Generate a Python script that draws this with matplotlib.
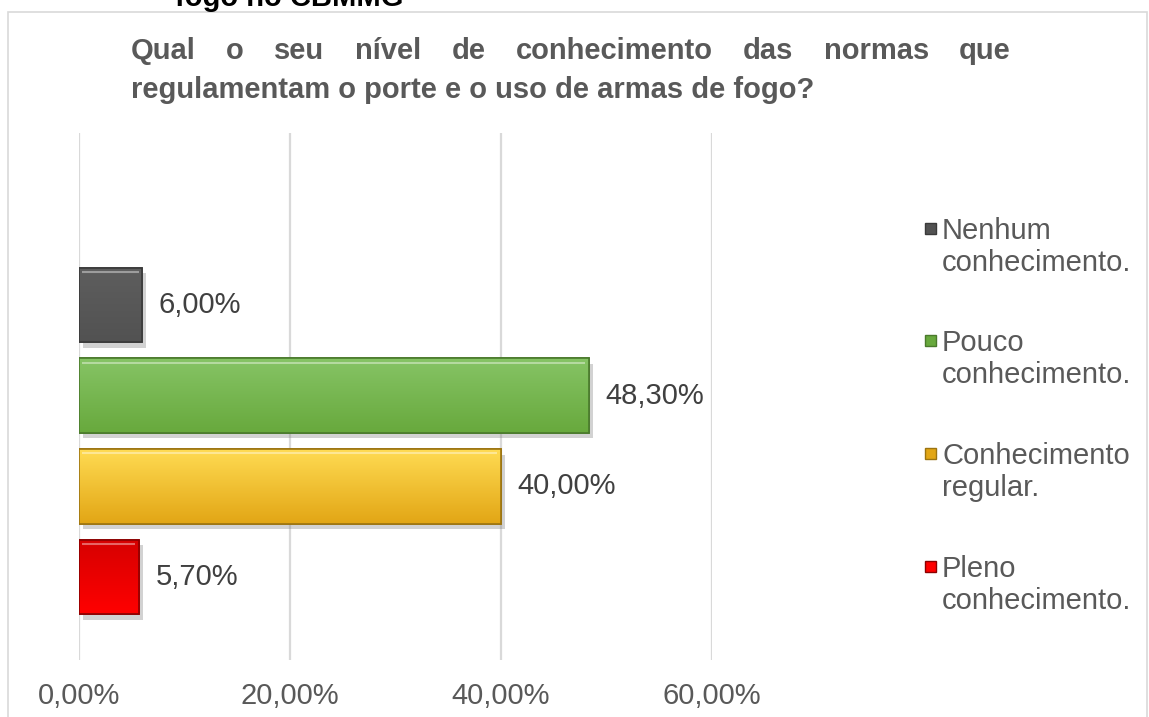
import numpy as np
import matplotlib
matplotlib.use("Agg")
import matplotlib.pyplot as plt
from matplotlib.patches import Rectangle
from matplotlib.colors import LinearSegmentedColormap
import matplotlib.patheffects as pe

plt.rcParams['font.family'] = ['Liberation Sans', 'DejaVu Sans']

# dados
categorias = ["Nenhum conhecimento.", "Pouco conhecimento.",
              "Conhecimento regular.", "Pleno conhecimento."]
legenda = [("Nenhum", "conhecimento."), ("Pouco", "conhecimento."),
           ("Conhecimento", "regular."), ("Pleno", "conhecimento.")]
valores = [6.0, 48.3, 40.0, 5.7]
rotulos = ["6,00%", "48,30%", "40,00%", "5,70%"]
ticks = [0, 20, 40, 60]
tick_labels = ["0,00%", "20,00%", "40,00%", "60,00%"]

# cores (topo, base, borda)
cores = [("#5e5e5e", "#525252", "#3a3a3a"),
         ("#86c465", "#68a93d", "#4a7a2c"),
         ("#ffdb52", "#e2a615", "#9c7410"),
         ("#d60000", "#ff0000", "#8c0000")]

W, H = 1149, 717
cinza_txt = "#595959"
fig = plt.figure(figsize=(W / 100, H / 100), dpi=100)

# moldura do grafico
fig.add_artist(Rectangle((8 / W, -0.05), (1147 - 8) / W, (H - 12) / H + 0.05,
                         transform=fig.transFigure, fill=False,
                         edgecolor="#d9d9d9", lw=1.2))

ax = fig.add_axes([79 / W, (H - 660) / H, (712 - 79) / W, (660 - 133) / H])

pos = np.arange(len(valores))[::-1]
altura = 0.82
bars = ax.barh(pos, valores, height=altura, zorder=3)
for b, (c1, c2, ce) in zip(bars, cores):
    b.set_facecolor(c2)
    b.set_edgecolor(ce)
    b.set_linewidth(1.2)
    b.set_path_effects([pe.SimplePatchShadow(offset=(3, -4), shadow_rgbFace="#808080", alpha=0.35),
                        pe.Normal()])
    x0, y0 = b.get_x(), b.get_y()
    w, h = b.get_width(), b.get_height()
    cmap = LinearSegmentedColormap.from_list("g", [c1, c2])
    grad = np.linspace(0, 1, 64).reshape(-1, 1)
    im = ax.imshow(grad, cmap=cmap, extent=(x0, x0 + w, y0, y0 + h),
                   aspect="auto", zorder=4, interpolation="bicubic")
    im.set_clip_path(b)
    # brilho no topo
    ax.hlines(y0 + h - 0.045, x0 + 0.25, x0 + w - 0.35, colors="white",
              alpha=0.4, lw=1.5, zorder=5)
    # borda por cima do gradiente
    ax.add_patch(Rectangle((x0, y0), w, h, fill=False, edgecolor=ce, lw=1.2, zorder=6))

for b, txt in zip(bars, rotulos):
    ax.annotate(txt, (b.get_width(), b.get_y() + b.get_height() / 2),
                xytext=(12, 0), textcoords="offset points", va="center", ha="left",
                fontsize=21, color="#404040")

ax.set_xlim(0, 60)
ax.set_ylim(-0.915, 3 + 1.896)
ax.set_xticks(ticks)
ax.set_xticklabels(tick_labels, fontsize=21, color=cinza_txt)
ax.set_yticks([])
ax.tick_params(axis="x", length=0, pad=16)
for s in ax.spines.values():
    s.set_visible(False)
ax.grid(axis="x", color="#d9d9d9", lw=1.6, zorder=0)
ax.set_axisbelow(True)

# legenda manual
y_leg = [228, 340, 453, 566]
for (l1, l2), (c1, c2, ce), yy in zip(legenda, cores, y_leg):
    fig.add_artist(Rectangle((925 / W, (H - yy - 6) / H), 11 / W, 11 / H,
                             transform=fig.transFigure, facecolor=c2,
                             edgecolor=ce, lw=1))
    fig.text(942 / W, (H - yy) / H, l1, fontsize=21, color=cinza_txt, va="center_baseline")
    fig.text(942 / W, (H - yy - 32) / H, l2, fontsize=21, color=cinza_txt, va="center_baseline")

# titulo justificado
linha1 = "Qual o seu nível de conhecimento das normas que".split()
linha2 = "regulamentam o porte e o uso de armas de fogo?"
x_ini, x_fim = 131, 1011
renderer = fig.canvas.get_renderer()
palavras = [fig.text(0, (H - 59) / H, p, fontsize=21, fontweight="bold",
                     color=cinza_txt, va="baseline") for p in linha1]
larg = [t.get_window_extent(renderer).width for t in palavras]
esp = (x_fim - x_ini - sum(larg)) / (len(palavras) - 1)
x = x_ini
for t, lw_ in zip(palavras, larg):
    t.set_x(x / W)
    x += lw_ + esp
fig.text(x_ini / W, (H - 98) / H, linha2, fontsize=21, fontweight="bold",
         color=cinza_txt, va="baseline")

# texto cortado acima do grafico (como no original)
fig.text(175 / W, (H - 6) / H, "fogo no CBMMG", fontsize=21, fontweight="bold",
         color="#000000", va="baseline")

fig.savefig("out.png", dpi=100)
